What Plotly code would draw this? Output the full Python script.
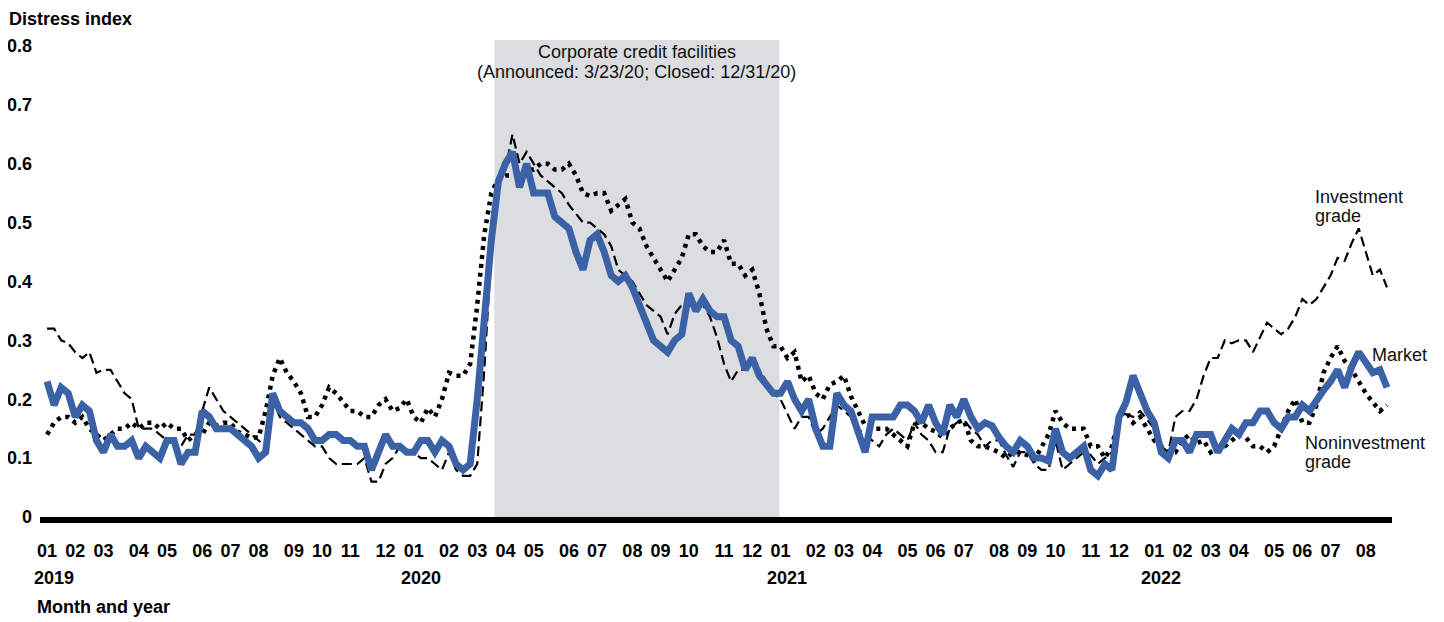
import pandas as pd
import plotly.graph_objects as go

# weekly readings, Fridays from 2019-01-04 to 2022-08-26
start_date = "2019-01-04"

market = [
    0.23, 0.19, 0.22, 0.21, 0.17, 0.19, 0.18, 0.13, 0.11, 0.14,
    0.12, 0.12, 0.13, 0.10, 0.12, 0.11, 0.10, 0.13, 0.13, 0.09,
    0.11, 0.11, 0.18, 0.17, 0.15, 0.15, 0.15, 0.14, 0.13, 0.12,
    0.10, 0.11, 0.21, 0.18, 0.17, 0.16, 0.16, 0.15, 0.13, 0.13,
    0.14, 0.14, 0.13, 0.13, 0.12, 0.12, 0.08, 0.11, 0.14, 0.12,
    0.12, 0.11, 0.11, 0.13, 0.13, 0.11, 0.13, 0.12, 0.09, 0.08,
    0.09, 0.20, 0.34, 0.47, 0.57, 0.60, 0.62, 0.56, 0.60, 0.55,
    0.55, 0.55, 0.51, 0.50, 0.49, 0.45, 0.42, 0.47, 0.48, 0.45,
    0.41, 0.40, 0.41, 0.39, 0.36, 0.33, 0.30, 0.29, 0.28, 0.30,
    0.31, 0.38, 0.35, 0.37, 0.35, 0.34, 0.34, 0.30, 0.29, 0.25,
    0.27, 0.24, 0.225, 0.21, 0.21, 0.23, 0.20, 0.18, 0.20, 0.15,
    0.12, 0.12, 0.21, 0.19, 0.18, 0.14, 0.11, 0.17, 0.17, 0.17,
    0.17, 0.19, 0.19, 0.18, 0.16, 0.19, 0.16, 0.14, 0.19, 0.17,
    0.20, 0.17, 0.15, 0.16, 0.155, 0.135, 0.12, 0.11, 0.13, 0.12,
    0.10, 0.10, 0.095, 0.15, 0.11, 0.10, 0.11, 0.12, 0.08, 0.07,
    0.09, 0.08, 0.17, 0.195, 0.24, 0.21, 0.18, 0.16, 0.11, 0.10,
    0.13, 0.13, 0.11, 0.14, 0.14, 0.14, 0.11, 0.13, 0.15, 0.14,
    0.16, 0.16, 0.18, 0.18, 0.16, 0.15, 0.17, 0.17, 0.19, 0.18,
    0.20, 0.215, 0.23, 0.25, 0.22, 0.255, 0.28, 0.26, 0.245, 0.25,
    0.22,
]

investment_grade = [
    0.32, 0.32, 0.30, 0.295, 0.28, 0.27, 0.28, 0.245, 0.25, 0.25,
    0.23, 0.21, 0.20, 0.15, 0.15, 0.15, 0.14, 0.13, 0.125, 0.12,
    0.14, 0.14, 0.18, 0.22, 0.20, 0.18, 0.17, 0.16, 0.15, 0.14,
    0.13, 0.12, 0.20, 0.17, 0.16, 0.15, 0.14, 0.13, 0.12, 0.12,
    0.10, 0.09, 0.09, 0.09, 0.09, 0.10, 0.06, 0.06, 0.09, 0.10,
    0.12, 0.11, 0.11, 0.10, 0.10, 0.09, 0.08, 0.11, 0.08, 0.07,
    0.07, 0.09, 0.25, 0.45, 0.57, 0.59, 0.65, 0.60, 0.62, 0.60,
    0.58, 0.57, 0.56, 0.55, 0.53, 0.515, 0.50, 0.50, 0.49, 0.48,
    0.46, 0.42, 0.41, 0.40, 0.38, 0.36, 0.35, 0.34, 0.31, 0.345,
    0.36, 0.37, 0.37, 0.36, 0.34, 0.305, 0.26, 0.23, 0.25, 0.25,
    0.26, 0.25, 0.23, 0.21, 0.20, 0.175, 0.15, 0.17, 0.17, 0.14,
    0.15, 0.17, 0.19, 0.18, 0.17, 0.15, 0.14, 0.13, 0.12, 0.14,
    0.15, 0.14, 0.13, 0.16, 0.14, 0.13, 0.11, 0.11, 0.15, 0.16,
    0.165, 0.15, 0.14, 0.12, 0.13, 0.13, 0.105, 0.085, 0.11, 0.11,
    0.09, 0.08, 0.08, 0.13, 0.08, 0.09, 0.10, 0.11, 0.105, 0.09,
    0.10, 0.11, 0.17, 0.175, 0.17, 0.18, 0.165, 0.15, 0.12, 0.11,
    0.17, 0.18, 0.18, 0.20, 0.24, 0.27, 0.27, 0.30, 0.295, 0.30,
    0.30, 0.28, 0.305, 0.33, 0.32, 0.31, 0.32, 0.34, 0.37, 0.36,
    0.37, 0.39, 0.41, 0.44, 0.435, 0.465, 0.49, 0.45, 0.41, 0.42,
    0.39,
]

noninvestment_grade = [
    0.14, 0.16, 0.17, 0.17, 0.16, 0.17, 0.15, 0.14, 0.13, 0.14,
    0.15, 0.15, 0.16, 0.15, 0.16, 0.16, 0.15, 0.16, 0.15, 0.15,
    0.13, 0.14, 0.14, 0.16, 0.155, 0.16, 0.16, 0.145, 0.14, 0.135,
    0.135, 0.18, 0.24, 0.27, 0.245, 0.23, 0.21, 0.17, 0.17, 0.19,
    0.22, 0.21, 0.195, 0.18, 0.18, 0.17, 0.17, 0.19, 0.20, 0.18,
    0.185, 0.20, 0.17, 0.16, 0.185, 0.17, 0.20, 0.245, 0.24, 0.24,
    0.26, 0.36, 0.48, 0.55, 0.575, 0.58, 0.58, 0.58, 0.59, 0.59,
    0.60, 0.60, 0.59, 0.59, 0.60, 0.58, 0.55, 0.545, 0.55, 0.55,
    0.52, 0.53, 0.54, 0.50, 0.49, 0.46, 0.44, 0.42, 0.40, 0.42,
    0.44, 0.48, 0.48, 0.46, 0.45, 0.45, 0.47, 0.43, 0.43, 0.41,
    0.42, 0.38, 0.32, 0.29, 0.29, 0.27, 0.28, 0.23, 0.24, 0.21,
    0.20, 0.225, 0.23, 0.24, 0.205, 0.18, 0.155, 0.15, 0.15, 0.15,
    0.14, 0.13, 0.12, 0.16, 0.16, 0.15, 0.145, 0.135, 0.15, 0.16,
    0.165, 0.13, 0.12, 0.12, 0.115, 0.11, 0.10, 0.11, 0.11, 0.105,
    0.097, 0.117, 0.14, 0.18, 0.16, 0.15, 0.15, 0.15, 0.12, 0.12,
    0.10, 0.12, 0.17, 0.18, 0.16, 0.17, 0.15, 0.13, 0.12, 0.11,
    0.11, 0.13, 0.14, 0.125, 0.13, 0.11, 0.12, 0.12, 0.13, 0.14,
    0.135, 0.12, 0.12, 0.11, 0.12, 0.15, 0.18, 0.20, 0.16, 0.16,
    0.19, 0.245, 0.27, 0.29, 0.265, 0.25, 0.23, 0.21, 0.195, 0.18,
    0.19,
]

facility_start = "2020-03-23"
facility_end = "2020-12-31"
years = ["2019", "2020", "2021", "2022"]

dates = pd.date_range(start_date, periods=len(market), freq="7D")

# month ticks sit on the first weekly reading of each month
month_ticks = [d for k, d in enumerate(dates) if k == 0 or d.month != dates[k - 1].month]
month_text = [f"<b>{d.month:02d}</b>" for d in month_ticks]
jan_ticks = [d for d in month_ticks if d.month == 1]

FONT = "Liberation Sans, Arial, sans-serif"
BLUE = "#3b62a6"
TXT = "#111111"

fig = go.Figure()
fig.add_vrect(
    x0=facility_start, x1=facility_end,
    fillcolor="#dcdde0", line_width=0, layer="below",
)
fig.add_trace(go.Scatter(
    x=dates, y=investment_grade, mode="lines", name="Investment grade",
    line=dict(color="black", width=2.2, dash="10px,5px"),
))
fig.add_trace(go.Scatter(
    x=dates, y=noninvestment_grade, mode="lines", name="Noninvestment grade",
    line=dict(color="black", width=4.5, dash="4px,5px"),
))
fig.add_trace(go.Scatter(
    x=dates, y=market, mode="lines", name="Market",
    line=dict(color=BLUE, width=7),
))

mid = pd.Timestamp(facility_start) + (pd.Timestamp(facility_end) - pd.Timestamp(facility_start)) / 2


def note(text, x, y, xref="paper", xanchor="left", size=18, color=TXT, xshift=0):
    fig.add_annotation(x=x, y=y, xref=xref, yref="paper", xanchor=xanchor,
                       yanchor="middle", showarrow=False, text=text, xshift=xshift,
                       font=dict(size=size, color=color))


# paper y from page rows: plot spans rows 40..517
def py(row):
    return (517 - row) / 477


note("Corporate credit facilities", mid, py(52), xref="x", xanchor="center")
note("(Announced: 3/23/20; Closed: 12/31/20)", mid, py(72), xref="x", xanchor="center")
note("Investment", 0.9416, py(197))
note("grade", 0.9416, py(216))
note("Market", 0.9837, py(355))
note("Noninvestment", 0.934, py(443))
note("grade", 0.934, py(462))

for yr, d in zip(years, jan_ticks):
    note(f"<b>{yr}</b>", d, py(578), xref="x", xanchor="center", color="black", xshift=7)
note("<b>Month and year</b>", -0.004, py(607), color="black")
note("<b>Distress index</b>", -0.0245, py(19), color="black")

# the page body adds an 8px offset at top-left
fig.update_layout(
    width=1436, height=614,
    margin=dict(l=32, r=52, t=32, b=105),
    plot_bgcolor="white", paper_bgcolor="white",
    showlegend=False,
    font=dict(family=FONT, color="black"),
    xaxis=dict(
        range=[dates[0] - pd.Timedelta(days=7), dates[-1] + pd.Timedelta(days=5)],
        tickvals=month_ticks, ticktext=month_text, automargin=False,
        tickfont=dict(size=18), ticks="", showgrid=False, zeroline=False,
        showline=True, linecolor="black", linewidth=6, ticklabelstandoff=12,
    ),
    yaxis=dict(
        range=[0, 0.81], tickvals=[0, 0.1, 0.2, 0.3, 0.4, 0.5, 0.6, 0.7, 0.8],
        ticktext=["<b>0</b>", "<b>0.1</b>", "<b>0.2</b>", "<b>0.3</b>", "<b>0.4</b>",
                  "<b>0.5</b>", "<b>0.6</b>", "<b>0.7</b>", "<b>0.8</b>"],
        tickfont=dict(size=18), ticks="", showgrid=False, zeroline=False, showline=False,
        ticklabelstandoff=7, automargin=False,
    ),
)

fig.write_html("out.html")
